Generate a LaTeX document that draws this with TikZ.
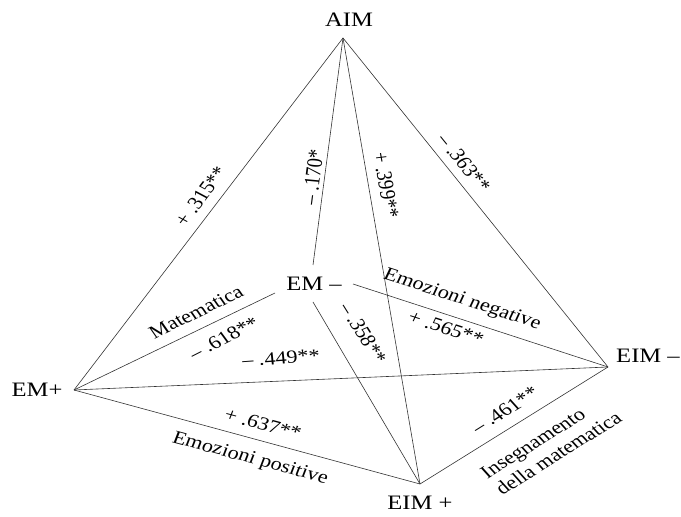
\documentclass[tikz,border=0pt]{standalone}
\usepackage{fontspec}
\setmainfont{Liberation Serif}
\begin{document}
\begin{tikzpicture}[x=1pt,y=1pt,
  edge/.style={draw=black!80,line width=0.6pt},
  vlabel/.style={font=\fontsize{20.5}{22}\selectfont,inner sep=0pt,xscale=1.2},
  elabel/.style={font=\fontsize{18.5}{21}\selectfont,inner sep=0pt,xscale=1.2},
  tlabel/.style={font=\fontsize{18.5}{21}\selectfont,inner sep=0pt,xscale=1.2}]
\useasboundingbox (0,0) rectangle (681,517);
% vertices
\coordinate (A) at (343,479);
\coordinate (EMp) at (74,127);
\coordinate (EIMm) at (608,150);
\coordinate (EIMp) at (420,33);
\coordinate (em1) at (313,252);
\coordinate (em2) at (275,224);
\coordinate (em3) at (353,233);
\coordinate (em4) at (313,215);
% vertex labels
\node[vlabel] (tA) at (349,497) {AIM};
\node[vlabel] (tEMp) at (37,127) {EM+};
\node[vlabel] (tEMm) at (314,233) {EM –};
\node[vlabel] (tEIMm) at (648,161) {EIM –};
\node[vlabel] (tEIMp) at (420,14) {EIM +};
% edges
\draw[edge] (A) -- (EMp);
\draw[edge] (A) -- (em1);
\draw[edge] (A) -- (EIMp);
\draw[edge] (A) -- (EIMm);
\draw[edge] (EMp) -- (em2);
\draw[edge] (EMp) -- (EIMm);
\draw[edge] (EMp) -- (EIMp);
\draw[edge] (em3) -- (EIMm);
\draw[edge] (em4) -- (EIMp);
\draw[edge] (EIMm) -- (EIMp);
% edge labels
\node[elabel,rotate=57.5] (l1) at (201,321) {+ .315**};
\node[elabel,rotate=83.7] (l2) at (313,340) {– .170*};
\node[elabel,rotate=-81.6] (l3) at (386,332) {+ .399**};
\node[elabel,rotate=-56] (l4) at (464,354) {– .363**};
\node[tlabel,rotate=30.1] (l5) at (196,205) {Matematica};
\node[elabel,rotate=31.4] (l6) at (224,179) {– .618**};
\node[elabel,rotate=4.8] (l7) at (281,159) {– .449**};
\node[elabel,rotate=-17.8] (l8) at (263,93) {+ .637**};
\node[tlabel,rotate=-17.8] (l9) at (250,58) {Emozioni positive};
\node[elabel,rotate=-62.5] (l10) at (363,184) {– .358**};
\node[tlabel,rotate=-21.3] (l11) at (462,217) {Emozioni negative};
\node[elabel,rotate=-21.3] (l12) at (446,189) {+ .565**};
\node[elabel,rotate=36.9] (l13) at (505,107) {– .461**};
\node[tlabel,rotate=36.9,align=left] (l14) at (551,72) {Insegnamento\\della matematica};
\end{tikzpicture}
\end{document}
